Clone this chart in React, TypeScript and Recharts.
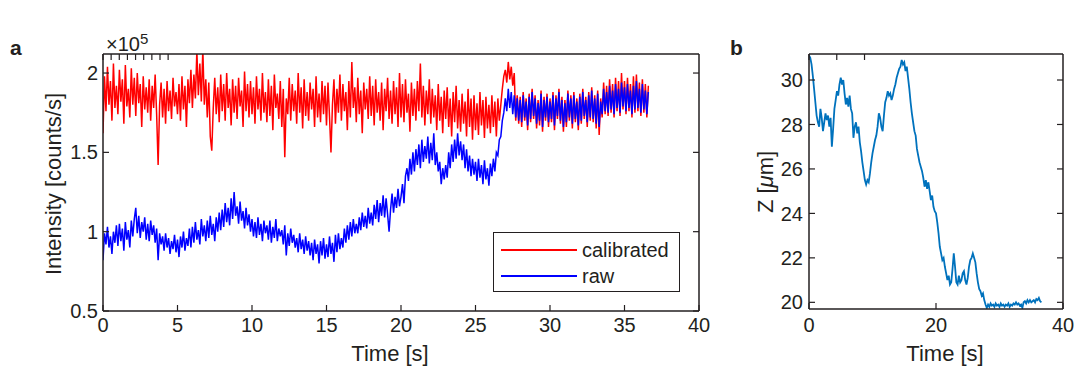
import { Line, LineChart, XAxis, YAxis } from 'recharts'

// sampling step of the traces (s)
const intensityStep = 0.1
const depthStep = 0.2

// panel a, intensity in units of 1e5 counts/s, one row = 1 s
const rawIntensity = [
  0.82, 0.99, 0.92, 1.03, 0.9, 0.97, 0.86, 1.0, 0.93, 1.04,
  0.91, 1.05, 0.94, 1.02, 0.88, 1.06, 0.95, 1.01, 0.9, 1.07,
  0.97, 1.08, 1.15, 0.99, 1.1, 0.96, 1.06, 1.0, 1.09, 0.95,
  1.05, 0.94, 1.07, 0.98, 1.04, 0.93, 1.02, 0.82, 0.99, 0.92,
  0.97, 0.88, 0.99, 0.9, 0.96, 0.86, 0.94, 0.89, 0.98, 0.87,
  0.95, 0.84, 0.97, 0.9, 1.0, 0.88, 0.96, 0.91, 1.02, 0.9,
  1.03, 0.93, 1.06, 0.95, 1.01, 0.92, 1.08, 0.97, 1.04, 0.94,
  1.07, 0.96, 1.1, 0.98, 1.05, 0.94, 1.09, 1.0, 1.12, 1.01,
  1.14, 1.03, 1.18, 1.06, 1.15, 1.04, 1.21, 1.08, 1.25, 1.1,
  1.16, 1.05, 1.19, 1.07, 1.13, 1.02, 1.15, 1.04, 1.11, 1.0,
  1.08, 0.97, 1.06, 0.96, 1.09, 0.98, 1.05, 0.94, 1.07, 0.99,
  1.04, 0.95, 1.07, 0.93, 1.03, 0.96, 1.08, 0.94, 1.02, 0.97,
  1.01, 0.92, 1.04, 0.85, 0.99, 0.91, 1.02, 0.93, 0.98, 0.9,
  0.96, 0.87, 0.99, 0.89, 0.95, 0.86, 0.97, 0.88, 0.94, 0.85,
  0.93, 0.82, 0.95, 0.86, 0.92, 0.8, 0.94, 0.85, 0.96, 0.83,
  0.92, 0.84, 0.97, 0.86, 0.93, 0.81, 0.98, 0.87, 0.99, 0.89,
  0.96, 0.9, 1.02, 0.93, 1.04, 0.95, 1.06, 0.97, 1.08, 0.99,
  1.05, 0.99, 1.09, 1.01, 1.12, 1.03, 1.1, 1.02, 1.15, 1.05,
  1.12, 1.04, 1.17, 1.08, 1.2, 1.06, 1.18, 1.1, 1.23, 1.09,
  1.21, 1.11, 1.0, 1.14, 1.24, 1.12, 1.22, 1.15, 1.27, 1.16,
  1.22, 1.3, 1.18, 1.35, 1.4, 1.32, 1.46, 1.36, 1.5, 1.38,
  1.52, 1.42, 1.55, 1.4, 1.58, 1.44, 1.54, 1.46, 1.6, 1.43,
  1.56, 1.45, 1.62, 1.42, 1.5, 1.38, 1.44, 1.3, 1.4, 1.33,
  1.42, 1.34, 1.5, 1.4, 1.55, 1.44, 1.58, 1.46, 1.62, 1.48,
  1.57, 1.45, 1.55, 1.4, 1.52, 1.38, 1.48, 1.35, 1.46, 1.36,
  1.44, 1.32, 1.46, 1.34, 1.42, 1.3, 1.45, 1.33, 1.4, 1.29,
  1.43, 1.35, 1.46, 1.38, 1.5, 1.48, 1.58, 1.6, 1.7, 1.75,
  1.84, 1.76, 1.9, 1.78, 1.88, 1.74, 1.86, 1.72, 1.84, 1.7,
  1.83, 1.69, 1.86, 1.72, 1.82, 1.67, 1.85, 1.71, 1.88, 1.73,
  1.84, 1.68, 1.81, 1.7, 1.87, 1.66, 1.83, 1.72, 1.85, 1.69,
  1.82, 1.71, 1.86, 1.67, 1.84, 1.73, 1.88, 1.7, 1.83, 1.66,
  1.81, 1.69, 1.87, 1.72, 1.84, 1.68, 1.86, 1.71, 1.82, 1.67,
  1.85, 1.7, 1.88, 1.73, 1.83, 1.69, 1.86, 1.72, 1.89, 1.71,
  1.84, 1.68, 1.87, 1.66, 1.82, 1.74, 1.9, 1.76, 1.88, 1.75,
  1.92, 1.77, 1.89, 1.74, 1.93, 1.78, 1.9, 1.75, 1.94, 1.79,
  1.91, 1.76, 1.93, 1.78, 1.89, 1.74, 1.92, 1.77, 1.95, 1.78,
  1.9, 1.75, 1.93, 1.77, 1.89, 1.74, 1.88,
]

const calibratedIntensity = [
  1.62, 1.98, 1.76, 2.04, 1.8, 1.95, 1.7, 2.06, 1.78, 1.92,
  1.74, 2.02, 1.82, 1.96, 1.68, 2.05, 1.79, 1.9, 1.72, 2.03,
  1.8, 1.97, 1.73, 2.0, 1.81, 1.93, 1.66, 1.98, 1.77, 1.91,
  1.75, 1.96, 1.7, 1.92, 1.78, 1.99, 1.74, 1.42, 1.8, 1.94,
  1.72, 1.9, 1.68, 1.95, 1.76, 1.89, 1.71, 1.97, 1.79, 1.88,
  1.74, 1.93, 1.7, 1.98, 1.77, 1.92, 1.66, 1.96, 1.81, 2.02,
  1.78, 1.99, 1.84, 2.14, 1.86, 2.06, 1.82, 2.15, 1.8, 1.96,
  1.72, 1.94, 1.6, 1.51, 1.78, 1.97, 1.74, 1.91, 1.69, 1.99,
  1.76, 1.93, 1.7, 2.0, 1.78, 1.9, 1.67, 1.96, 1.75, 1.92,
  1.71, 1.97, 1.79, 1.89, 1.66, 2.01, 1.76, 1.93, 1.72, 1.95,
  1.74, 1.91, 1.68, 1.98, 1.77, 1.9, 1.7, 2.0, 1.75, 1.88,
  1.69, 1.96, 1.73, 1.92, 1.64, 1.99, 1.78, 1.87, 1.71, 1.95,
  1.66, 1.9, 1.47, 1.84, 1.74, 1.97, 1.7, 1.93, 1.76, 1.89,
  1.68, 2.0, 1.75, 1.91, 1.65, 1.96, 1.73, 1.88, 1.7, 1.94,
  1.77, 1.9, 1.66, 1.98, 1.72, 1.87, 1.69, 1.95, 1.74, 1.92,
  1.67, 1.94, 1.73, 1.5, 1.8, 1.96, 1.68, 1.9, 1.75, 1.99,
  1.7, 1.93, 1.76, 1.88, 1.64, 1.95, 1.72, 2.07, 1.78, 1.91,
  1.69, 1.97, 1.74, 1.89, 1.62, 1.94, 1.77, 1.9, 1.71, 1.98,
  1.73, 1.92, 1.67, 1.96, 1.75, 1.88, 1.7, 1.94, 1.64, 1.9,
  1.76, 1.97, 1.71, 1.89, 1.68, 1.95, 1.74, 1.91, 1.66, 2.0,
  1.72, 1.93, 1.69, 1.96, 1.75, 1.87, 1.63, 1.94, 1.73, 1.9,
  1.7, 1.95, 1.76, 2.06, 1.72, 1.92, 1.67, 1.89, 1.74, 1.96,
  1.68, 1.9, 1.72, 1.86, 1.64, 1.93, 1.7, 1.85, 1.62, 1.89,
  1.71, 1.91, 1.66, 1.84, 1.6, 1.88, 1.69, 1.92, 1.65, 1.83,
  1.63, 1.87, 1.68, 1.82, 1.6, 1.9, 1.66, 1.84, 1.58, 1.86,
  1.64, 1.81, 1.61, 1.88, 1.67, 1.83, 1.59, 1.85, 1.65, 1.8,
  1.62, 1.86, 1.66, 1.82, 1.6, 1.84, 1.7, 1.8, 1.9, 1.98,
  2.02, 1.94, 2.07, 1.96, 2.04, 1.92, 2.0, 1.7, 1.86, 1.68,
  1.85, 1.66, 1.88, 1.7, 1.84, 1.64, 1.87, 1.69, 1.9, 1.71,
  1.86, 1.65, 1.83, 1.67, 1.89, 1.63, 1.85, 1.7, 1.87, 1.66,
  1.84, 1.69, 1.88, 1.64, 1.86, 1.71, 1.9, 1.68, 1.85, 1.63,
  1.83, 1.66, 1.89, 1.7, 1.86, 1.65, 1.88, 1.69, 1.84, 1.64,
  1.87, 1.68, 1.9, 1.71, 1.85, 1.66, 1.88, 1.7, 1.91, 1.69,
  1.86, 1.65, 1.89, 1.61, 1.84, 1.72, 1.94, 1.74, 1.92, 1.73,
  1.96, 1.75, 1.93, 1.72, 1.97, 1.76, 1.95, 1.73, 2.0, 1.77,
  1.95, 1.74, 1.97, 1.76, 1.93, 1.72, 1.98, 1.75, 1.99, 1.76,
  1.94, 1.73, 1.96, 1.75, 1.93, 1.72, 1.92,
]

// panel b, Z position in µm, one row = 2 s
const depth = [
  31.1, 31.0, 30.7, 30.2, 29.6, 29.0, 28.4, 28.1, 27.9, 28.7,
  28.3, 27.7, 28.1, 28.5, 28.2, 28.4, 27.9, 28.3, 27.0, 27.8,
  28.7, 29.1, 29.5, 29.3, 29.8, 30.1, 29.8, 30.0, 29.4, 28.9,
  29.2, 28.8, 29.3, 28.7, 28.5, 27.4, 27.9, 28.1, 27.6, 27.9,
  27.2, 26.8, 26.3, 25.9, 25.5, 25.3, 25.5, 25.4, 25.8, 26.3,
  26.7, 27.0, 27.3, 27.5, 27.9, 28.5, 28.3, 27.9, 27.7, 28.4,
  29.0, 29.2, 29.5, 29.3, 29.4, 29.1, 29.3, 29.6, 29.8, 30.1,
  30.3, 30.5, 30.6, 30.9, 30.7, 30.8, 30.4, 30.6, 30.1, 29.6,
  29.0, 28.5, 28.1, 27.7, 27.5, 26.9, 26.6, 26.3, 26.1, 25.9,
  25.6, 25.2, 25.5, 25.1, 25.4, 25.0, 24.6, 24.8, 24.3, 24.1,
  24.0, 23.6, 23.1, 22.5, 22.2, 21.9, 22.0, 21.6, 21.3, 21.0,
  21.2, 20.8, 20.9, 21.5, 22.2, 21.6, 20.9, 20.8, 21.2, 20.9,
  21.0, 21.3, 21.4, 21.0, 20.8, 21.1, 21.6, 21.9, 22.0, 22.2,
  22.0, 21.8, 21.3, 20.9, 20.6, 20.5, 20.3, 20.4, 20.1, 19.9,
  19.75, 19.9, 19.8, 19.95, 19.85, 19.9, 19.8, 19.95, 19.85, 19.9,
  19.8, 19.95, 19.85, 19.9, 19.8, 19.9, 19.85, 19.95, 19.8, 19.9,
  19.85, 19.95, 19.9, 20.0, 19.9, 19.95, 19.85, 19.9, 19.75, 20.0,
  20.05, 19.95, 20.1, 20.0, 20.1, 20.0, 20.05, 20.1, 20.0, 20.15,
  20.1, 20.2, 20.05, 20.0,
]

const timeTicksA = [0, 5, 10, 15, 20, 25, 30, 35, 40]
const intensityTicks = [0.5, 1, 1.5, 2]
const timeTicksB = [0, 20, 40]
const depthTicks = [20, 22, 24, 26, 28, 30]

const intensityRows = rawIntensity.map((raw, i) => ({
  t: +(i * intensityStep).toFixed(2),
  raw,
  calibrated: calibratedIntensity[i],
}))
const depthRows = depth.map((z, i) => ({ t: +(i * depthStep).toFixed(2), z }))

const font = '"Liberation Sans", Arial, Helvetica, sans-serif'
const ink = '#231f20'
const tickText = { fill: ink, fontSize: 20, fontFamily: font }
const axisLine = { stroke: ink, strokeWidth: 1.5 }
const tickLine = { stroke: ink, strokeWidth: 1.2 }
const blank = () => ''

const label = (extra: React.CSSProperties): React.CSSProperties => ({
  position: 'absolute',
  fontFamily: font,
  color: ink,
  whiteSpace: 'nowrap',
  lineHeight: 1,
  ...extra,
})

function LegendBox() {
  const row = (color: string, text: string) => (
    <div style={{ display: 'flex', alignItems: 'center', height: 26 }}>
      <div style={{ width: 76, height: 0, borderTop: `2px solid ${color}`, marginRight: 5 }} />
      <span style={{ fontSize: 20, fontFamily: font, color: ink }}>{text}</span>
    </div>
  )
  return (
    <div
      style={{
        position: 'absolute',
        left: 493,
        top: 232,
        width: 187,
        height: 60,
        border: `1.5px solid ${ink}`,
        background: '#fff',
        padding: '4px 0 0 7px',
        boxSizing: 'border-box',
      }}
    >
      {row('#ff0000', 'calibrated')}
      {row('#0000ff', 'raw')}
    </div>
  )
}

export default function App() {
  return (
    <div style={{ position: 'absolute', left: 0, top: 0, width: 1078, height: 371, background: '#fff' }}>
      <div style={{ position: 'absolute', left: 0, top: 0 }}>
        <LineChart
          width={720}
          height={371}
          data={intensityRows}
          margin={{ top: 53, right: 20, bottom: 30, left: 43 }}
        >
          <XAxis
            dataKey='t'
            type='number'
            domain={[0, 40]}
            ticks={timeTicksA}
            tick={tickText}
            axisLine={axisLine}
            tickLine={tickLine}
            tickSize={-6}
            tickMargin={13}
            height={30}
            allowDataOverflow
          />
          <XAxis
            xAxisId='top'
            orientation='top'
            type='number'
            domain={[0, 40]}
            ticks={timeTicksA}
            tickFormatter={blank}
            axisLine={axisLine}
            tickLine={tickLine}
            tickSize={-6}
            height={1}
            allowDataOverflow
          />
          <YAxis
            type='number'
            domain={[0.5, 2.12]}
            ticks={intensityTicks}
            tick={tickText}
            axisLine={axisLine}
            tickLine={tickLine}
            tickSize={-6}
            tickMargin={11}
            width={60}
            allowDataOverflow
          />
          <YAxis
            yAxisId='right'
            orientation='right'
            type='number'
            domain={[0.5, 2.12]}
            ticks={intensityTicks}
            tickFormatter={blank}
            axisLine={axisLine}
            tickLine={tickLine}
            tickSize={-6}
            width={1}
            allowDataOverflow
          />
          <Line
            type='linear'
            dataKey='calibrated'
            stroke='#ff0000'
            strokeWidth={1.5}
            dot={false}
            isAnimationActive={false}
          />
          <Line
            type='linear'
            dataKey='raw'
            stroke='#0000ff'
            strokeWidth={1.5}
            dot={false}
            isAnimationActive={false}
          />
        </LineChart>
      </div>
      <LegendBox />

      <div style={{ position: 'absolute', left: 720, top: 0 }}>
        <LineChart
          width={358}
          height={371}
          data={depthRows}
          margin={{ top: 53, right: 14, bottom: 32, left: 29 }}
        >
          <XAxis
            dataKey='t'
            type='number'
            domain={[0, 40]}
            ticks={timeTicksB}
            tick={tickText}
            axisLine={axisLine}
            tickLine={tickLine}
            tickSize={-6}
            tickMargin={15}
            height={30}
            allowDataOverflow
          />
          <XAxis
            xAxisId='top'
            orientation='top'
            type='number'
            domain={[0, 40]}
            ticks={timeTicksB}
            tickFormatter={blank}
            axisLine={axisLine}
            tickLine={tickLine}
            tickSize={-6}
            height={1}
            allowDataOverflow
          />
          <YAxis
            type='number'
            domain={[19.7, 31.17]}
            ticks={depthTicks}
            tick={tickText}
            axisLine={axisLine}
            tickLine={tickLine}
            tickSize={-6}
            tickMargin={12}
            width={60}
            allowDataOverflow
          />
          <YAxis
            yAxisId='right'
            orientation='right'
            type='number'
            domain={[19.7, 31.17]}
            ticks={depthTicks}
            tickFormatter={blank}
            axisLine={axisLine}
            tickLine={tickLine}
            tickSize={-6}
            width={1}
            allowDataOverflow
          />
          <Line
            type='linear'
            dataKey='z'
            stroke='#0072bd'
            strokeWidth={1.8}
            dot={false}
            isAnimationActive={false}
          />
        </LineChart>
      </div>

      <div style={label({ left: 10, top: 37, fontSize: 21, fontWeight: 'bold' })}>a</div>
      <div style={label({ left: 730, top: 37, fontSize: 21, fontWeight: 'bold' })}>b</div>
      <div style={label({ left: 106, top: 31, fontSize: 20 })}>
        ×10<sup style={{ fontSize: 15, verticalAlign: 7 }}>5</sup>
      </div>
      <div
        style={label({
          left: 54,
          top: 184,
          fontSize: 22,
          transform: 'translate(-50%, -50%) rotate(-90deg)',
        })}
      >
        Intensity [counts/s]
      </div>
      <div style={label({ left: 390, top: 354, fontSize: 22, transform: 'translate(-50%, -50%)' })}>
        Time [s]
      </div>
      <div style={label({ left: 945, top: 354, fontSize: 22, transform: 'translate(-50%, -50%)' })}>
        Time [s]
      </div>
      <div
        style={label({
          left: 766,
          top: 182,
          fontSize: 22,
          transform: 'translate(-50%, -50%) rotate(-90deg)',
        })}
      >
        Z [<i>μ</i>m]
      </div>
    </div>
  )
}
